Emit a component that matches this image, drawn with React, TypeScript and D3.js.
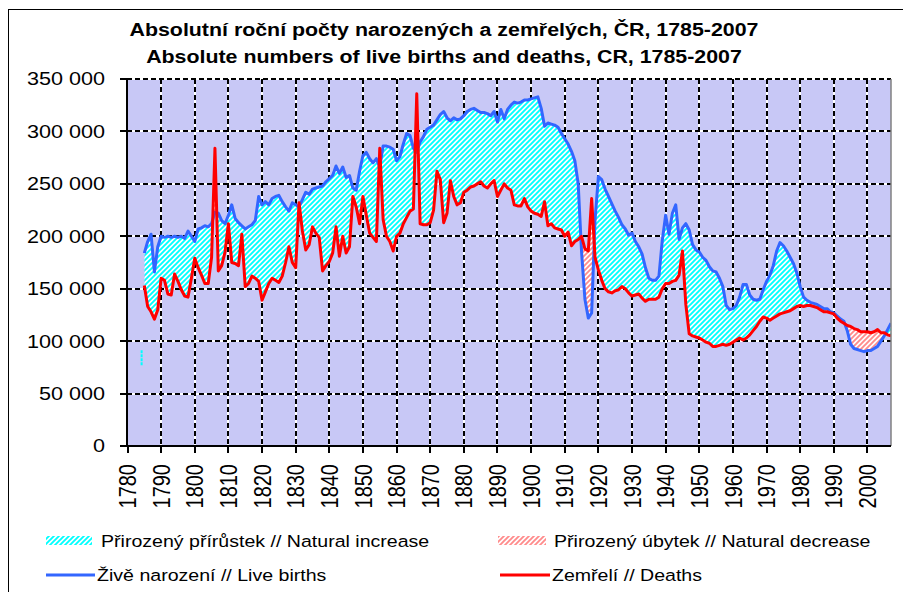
import React from "react";
import * as d3 from "d3";

// ---------- data (thousands of persons), one value per year 1785..2007 ----------
const firstYear = 1785;

const births: number[] = [
  184, 195, 202, 166, 190,
  200, 199, 200, 199, 200, 199, 200, 198, 205, 200,
  195, 207, 208, 210, 209, 212, 223, 222, 215, 212,
  220, 230, 217, 213, 210, 207, 209, 211, 215, 238,
  230, 233, 230, 236, 238, 239, 233, 228, 224, 232,
  230, 228, 235, 242, 240, 245, 246, 247, 248, 252,
  255, 258, 267, 260, 266, 256, 258, 246, 244, 262,
  277, 280, 274, 270, 274, 266, 286, 286, 285, 283,
  272, 276, 288, 298, 296, 284, 280, 290, 295, 302,
  304, 306, 311, 316, 319, 313, 310, 313, 311, 312,
  315, 319, 321, 322, 320, 318, 318, 317, 315, 319,
  309, 321, 312, 321, 325, 328, 327, 328, 330, 330,
  331, 332, 333, 322, 305, 308, 307, 306, 304, 298,
  293, 288, 281, 272, 250, 185, 140, 122, 127, 215,
  257, 254, 245, 238, 231, 224, 218, 211, 207, 201,
  203, 195, 190, 183, 170, 160, 158, 158, 162, 196,
  220, 202, 222, 230, 197, 208, 212, 206, 192, 187,
  185, 180, 177, 171, 167, 166, 160, 152, 134, 130,
  131, 134, 142, 154, 154, 144, 140, 139, 140, 149,
  157, 163, 172, 186, 194, 191, 186, 180, 174, 165,
  152, 142, 139, 137, 136, 135, 133, 131, 131, 128,
  127, 124, 121, 119, 110, 97, 93, 92, 91, 90,
  91, 91, 93, 95, 100, 105, 111, 117,
];

const deaths: number[] = [
  153, 133, 128, 121, 130,
  160, 158, 145, 144, 164, 157, 149, 143, 142, 160,
  179, 170, 163, 155, 155, 180, 284, 167, 172, 185,
  212, 175, 174, 172, 202, 152, 155, 162, 160, 157,
  139, 147, 155, 160, 158, 156, 162, 175, 190, 175,
  170, 232, 205, 187, 192, 209, 203, 199, 167, 172,
  176, 184, 209, 181, 200, 184, 190, 238, 228, 212,
  238, 220, 203, 199, 195, 284, 216, 200, 195, 186,
  200, 203, 212, 218, 224, 226, 336, 212, 211, 211,
  213, 225, 262, 254, 213, 222, 253, 238, 230, 232,
  242, 244, 247, 248, 250, 252, 248, 246, 250, 253,
  238, 244, 250, 246, 244, 230, 229, 229, 236, 228,
  224, 222, 221, 219, 233, 210, 212, 208, 207, 206,
  200, 204, 191, 195, 197, 200, 188, 186, 236, 180,
  168, 158, 150, 147, 146, 148, 149, 152, 150, 146,
  143, 144, 145, 141, 138, 140, 140, 140, 142, 150,
  155, 155, 157, 158, 163, 186, 135, 107, 105, 104,
  103, 101, 99, 98, 95, 95, 96, 97, 96, 97,
  99, 101, 103, 101, 103, 106, 110, 114, 119, 123,
  122, 120, 122, 124, 126, 127, 128, 129, 131, 133,
  134, 133, 134, 134, 133, 132, 130, 128, 128, 127,
  126, 122, 119, 117, 115, 114, 112, 111, 109, 109,
  109, 108, 109, 111, 108, 108, 106, 105,
];

// small stray cyan mark visible left of the series start
const strayYear = [1784.2];
const strayLow = [77];
const strayHigh = [92];

const yTickValues = [0, 50, 100, 150, 200, 250, 300, 350];
const yTickLabels = ["0", "50 000", "100 000", "150 000", "200 000", "250 000", "300 000", "350 000"];
const xTickYears = d3.range(1780, 2001, 10);

const titleLine1 = "Absolutní roční počty narozených a zemřelých, ČR, 1785-2007";
const titleLine2 = "Absolute numbers of live births and deaths, CR, 1785-2007";
const legendIncrease = "Přirozený přírůstek // Natural increase";
const legendDecrease = "Přirozený úbytek // Natural decrease";
const legendBirths = "Živě narození // Live births";
const legendDeaths = "Zemřelí // Deaths";

type Row = { year: number; b: number; d: number };

export default function App() {
  const W = 903;
  const H = 592;
  const left = 127;
  const right = 891;
  const top = 79;
  const bottom = 446;
  const sx = 1.2; // horizontal stretch of all text
  const font = "'Liberation Sans', Arial, sans-serif";

  const x = d3.scaleLinear().domain([1780, 2007]).range([127.5, 891]);
  const y = d3.scaleLinear().domain([0, 350]).range([bottom, top]);

  const rows: Row[] = births.map((b, i) => ({ year: firstYear + i, b, d: deaths[i] }));

  const lineBirths = d3.line<Row>().x((r) => x(r.year)).y((r) => y(r.b))(rows) || "";
  const lineDeaths = d3.line<Row>().x((r) => x(r.year)).y((r) => y(r.d))(rows) || "";
  const clipBelowBirths = d3.area<Row>().x((r) => x(r.year)).y0(H).y1((r) => y(r.b))(rows) || "";
  const clipAboveBirths = d3.area<Row>().x((r) => x(r.year)).y0(0).y1((r) => y(r.b))(rows) || "";
  const areaAboveDeaths = d3.area<Row>().x((r) => x(r.year)).y0(0).y1((r) => y(r.d))(rows) || "";
  const areaBelowDeaths = d3.area<Row>().x((r) => x(r.year)).y0(H).y1((r) => y(r.d))(rows) || "";

  const hLines = yTickValues.filter((v) => v > 0).map((v) => Math.round(y(v)));
  const vLines = xTickYears.filter((yr) => yr > 1780).map((yr) => Math.round(x(yr)));

  const blue = "#3366FF";
  const red = "#FF0000";
  const cyan = "#00FFFF";
  const pink = "#FF8C8C";
  const bg = "#C8C8F6";

  return (
    <svg
      width={W}
      height={H}
      viewBox={`0 0 ${W} ${H}`}
      style={{ position: "absolute", left: 0, top: 0, background: "#fff" }}
      fontFamily={font}
    >
      <defs>
        <pattern id="hatchCyan" patternUnits="userSpaceOnUse" width="5" height="5">
          <rect width="5" height="5" fill="#fff" />
          <path d="M-1,1 l2,-2 M0,5 l5,-5 M4,6 l2,-2" stroke={cyan} strokeWidth="1.9" />
        </pattern>
        <pattern id="hatchPink" patternUnits="userSpaceOnUse" width="5" height="5">
          <rect width="5" height="5" fill="#fff" />
          <path d="M-1,1 l2,-2 M0,5 l5,-5 M4,6 l2,-2" stroke={pink} strokeWidth="1.9" />
        </pattern>
        <clipPath id="plotClip">
          <rect x={left} y={top} width={right - left} height={bottom - top} />
        </clipPath>
        <clipPath id="belowBirths">
          <path d={clipBelowBirths} />
        </clipPath>
        <clipPath id="aboveBirths">
          <path d={clipAboveBirths} />
        </clipPath>
      </defs>

      {/* outer chart frame */}
      <rect x={8.5} y={9.5} width={W + 10} height={H + 10} fill="#fff" stroke="#000" strokeWidth={1} />

      {/* plot area */}
      <rect x={left} y={top} width={right - left} height={bottom - top} fill={bg} />

      {/* gridlines: white base with black dashes */}
      <g>
        {hLines.map((yy, i) => (
          <g key={"h" + i}>
            <line x1={left} x2={right} y1={yy} y2={yy} stroke="#ffffff" strokeWidth={2} />
            <line x1={left} x2={right} y1={yy} y2={yy} stroke="#000000" strokeWidth={2} strokeDasharray="5 3" />
          </g>
        ))}
        {vLines.map((xx, i) => (
          <g key={"v" + i}>
            <line x1={xx} x2={xx} y1={top} y2={bottom} stroke="#ffffff" strokeWidth={2} />
            <line x1={xx} x2={xx} y1={top} y2={bottom} stroke="#000000" strokeWidth={2} strokeDasharray="5 3" />
          </g>
        ))}
      </g>

      {/* hatched areas */}
      <g clipPath="url(#plotClip)">
        <g clipPath="url(#belowBirths)">
          <path d={areaAboveDeaths} fill="url(#hatchCyan)" />
        </g>
        <g clipPath="url(#aboveBirths)">
          <path d={areaBelowDeaths} fill="url(#hatchPink)" />
        </g>
        {strayYear.map((yr, i) => (
          <line
            key={"stray" + i}
            x1={x(yr)}
            x2={x(yr)}
            y1={y(strayLow[i])}
            y2={y(strayHigh[i])}
            stroke={cyan}
            strokeWidth={2}
            strokeDasharray="3,1"
          />
        ))}
        <path d={lineBirths} fill="none" stroke={blue} strokeWidth={3} strokeLinejoin="round" />
        <path d={lineDeaths} fill="none" stroke={red} strokeWidth={3} strokeLinejoin="round" />
      </g>

      {/* plot border (right) */}
      <line x1={right} x2={right} y1={top} y2={bottom} stroke="#808080" strokeWidth={1.5} />

      {/* axes */}
      <line x1={left} x2={left} y1={top} y2={bottom + 1} stroke="#000" strokeWidth={2} />
      <line x1={left - 1} x2={right} y1={bottom} y2={bottom} stroke="#000" strokeWidth={2} />
      {yTickValues.map((v, i) => (
        <g key={"yt" + v}>
          <line x1={left - 7} x2={left} y1={Math.round(y(v))} y2={Math.round(y(v))} stroke="#000" strokeWidth={2} />
          <text
            transform={`translate(105,${y(v)}) scale(${sx},1)`}
            textAnchor="end"
            dy="0.36em"
            fontSize={18}
            fill="#000"
          >
            {yTickLabels[i]}
          </text>
        </g>
      ))}
      {xTickYears.map((yr) => (
        <g key={"xt" + yr}>
          <line x1={Math.round(x(yr))} x2={Math.round(x(yr))} y1={bottom} y2={bottom + 7} stroke="#000" strokeWidth={2} />
          <text
            transform={`translate(${x(yr)},464) scale(${sx},1) rotate(-90)`}
            textAnchor="end"
            dy="0.36em"
            fontSize={20}
            fill="#000"
          >
            {yr}
          </text>
        </g>
      ))}

      {/* title */}
      <text transform={`translate(444,35.5) scale(${sx},1)`} textAnchor="middle" fontSize={17.8} fontWeight="bold" fill="#000">
        {titleLine1}
      </text>
      <text transform={`translate(444,62.5) scale(${sx},1)`} textAnchor="middle" fontSize={17.8} fontWeight="bold" fill="#000">
        {titleLine2}
      </text>

      {/* legend */}
      <rect x={46} y={536} width={46} height={9} fill="url(#hatchCyan)" />
      <text transform={`translate(101,546.5) scale(${sx},1)`} fontSize={16.3} fill="#000">
        {legendIncrease}
      </text>
      <rect x={498} y={536} width={48} height={9} fill="url(#hatchPink)" />
      <text transform={`translate(554,546.5) scale(${sx},1)`} fontSize={16.3} fill="#000">
        {legendDecrease}
      </text>
      <line x1={46} x2={95} y1={575} y2={575} stroke={blue} strokeWidth={3} />
      <text transform={`translate(97,580.5) scale(${sx},1)`} fontSize={16.3} fill="#000">
        {legendBirths}
      </text>
      <line x1={500} x2={550} y1={575} y2={575} stroke={red} strokeWidth={3} />
      <text transform={`translate(552,580.5) scale(${sx},1)`} fontSize={16.3} fill="#000">
        {legendDeaths}
      </text>
    </svg>
  );
}
